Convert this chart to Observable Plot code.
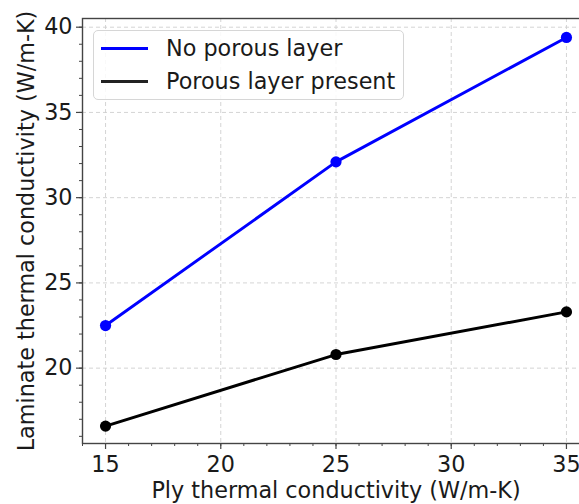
<!DOCTYPE html>
<html>
<head>
<meta charset="utf-8">
<script src="https://cdn.jsdelivr.net/npm/d3@7"></script>
<script src="https://cdn.jsdelivr.net/npm/@observablehq/plot@0.6"></script>
<style>
  html, body { margin: 0; padding: 0; background: #fff; }
  #chart { position: relative; width: 579px; height: 504px; overflow: hidden; font-family: "DejaVu Sans", sans-serif; }
  #chart svg { position: absolute; left: 0; top: 0; }
  .legend { position: absolute; left: 93px; top: 30px; width: 311px; height: 70px;
            border: 1px solid #d6d6d6; border-radius: 5px; background: rgba(255,255,255,0.85);
            box-sizing: border-box; }
  .legend .row { position: absolute; left: 0; height: 26px; display: flex; align-items: center; }
  .legend .swatch { width: 47px; height: 0; border-top: 3px solid; margin-left: 7px; margin-right: 18px; }
  .legend .lbl { font-size: 22.3px; color: #1a1a1a; white-space: nowrap; }
</style>
</head>
<body>
<div id="chart"></div>
<script>
// Ply thermal conductivity (W/m-K)
const plyK = [15, 25, 35];
// Laminate thermal conductivity (W/m-K) for each case
const noPorousLayer = [22.5, 32.1, 39.4];
const porousLayerPresent = [16.6, 20.8, 23.3];
const seriesNames = ["No porous layer", "Porous layer present"];
const seriesColors = ["#0000ff", "#000000"];
// Tick labels
const xTicks = [15, 20, 25, 30, 35];
const yTicks = [20, 25, 30, 35, 40];

const rows = [
  ...plyK.map((x, i) => ({x, y: noPorousLayer[i], series: seriesNames[0]})),
  ...plyK.map((x, i) => ({x, y: porousLayerPresent[i], series: seriesNames[1]}))
];

const xMinor = d3.range(14, 37);
const yMinor = d3.range(16, 41);
const axisColor = "#444";
const textColor = "#1a1a1a";

const chart = Plot.plot({
  width: 579,
  height: 504,
  marginLeft: 82,
  marginTop: 18,
  marginBottom: 61,
  marginRight: -10,
  style: {fontFamily: "DejaVu Sans, sans-serif", fontSize: "22.3px", color: textColor, background: "transparent"},
  x: {domain: [14, 36], range: [82, 589]},
  y: {domain: [15.58, 40.51], range: [443, 18]},
  color: {domain: seriesNames, range: seriesColors},
  marks: [
    Plot.gridX(xTicks, {stroke: "#cfcfcf", strokeOpacity: 1, strokeWidth: 0.9, strokeDasharray: "4,3"}),
    Plot.gridY(yTicks, {stroke: "#cfcfcf", strokeOpacity: 1, strokeWidth: 0.9, strokeDasharray: "4,3"}),
    Plot.frame({stroke: axisColor, strokeWidth: 1.4}),
    Plot.axisX(xMinor, {tickSize: 3, tickFormat: () => "", label: null, stroke: axisColor, strokeWidth: 1}),
    Plot.axisY(yMinor, {tickSize: 3, tickFormat: () => "", label: null, stroke: axisColor, strokeWidth: 1}),
    Plot.axisX(xTicks, {
      tickSize: 6, tickPadding: 7, stroke: axisColor, strokeWidth: 1.2, fill: textColor,
      label: "Ply thermal conductivity (W/m-K)", labelAnchor: "center", labelArrow: "none", labelOffset: 54
    }),
    Plot.axisY(yTicks, {
      tickSize: 6, tickPadding: 4, stroke: axisColor, strokeWidth: 1.2, fill: textColor,
      label: "Laminate thermal conductivity (W/m-K)", labelAnchor: "center", labelArrow: "none", labelOffset: 64
    }),
    Plot.line(rows, {x: "x", y: "y", z: "series", stroke: "series", strokeWidth: 2.9}),
    Plot.dot(rows, {x: "x", y: "y", fill: "series", r: 5.6, stroke: null})
  ]
});

const root = document.getElementById("chart");
root.appendChild(chart);

// Legend box in the upper-left corner of the axes
const legend = document.createElement("div");
legend.className = "legend";
seriesNames.forEach((name, i) => {
  const row = document.createElement("div");
  row.className = "row";
  row.style.top = (4 + i * 33) + "px";
  const sw = document.createElement("div");
  sw.className = "swatch";
  sw.style.borderColor = seriesColors[i] === "#000000" ? "#222" : seriesColors[i];
  const lbl = document.createElement("span");
  lbl.className = "lbl";
  lbl.textContent = name;
  row.appendChild(sw);
  row.appendChild(lbl);
  legend.appendChild(row);
});
root.appendChild(legend);
</script>
</body>
</html>
